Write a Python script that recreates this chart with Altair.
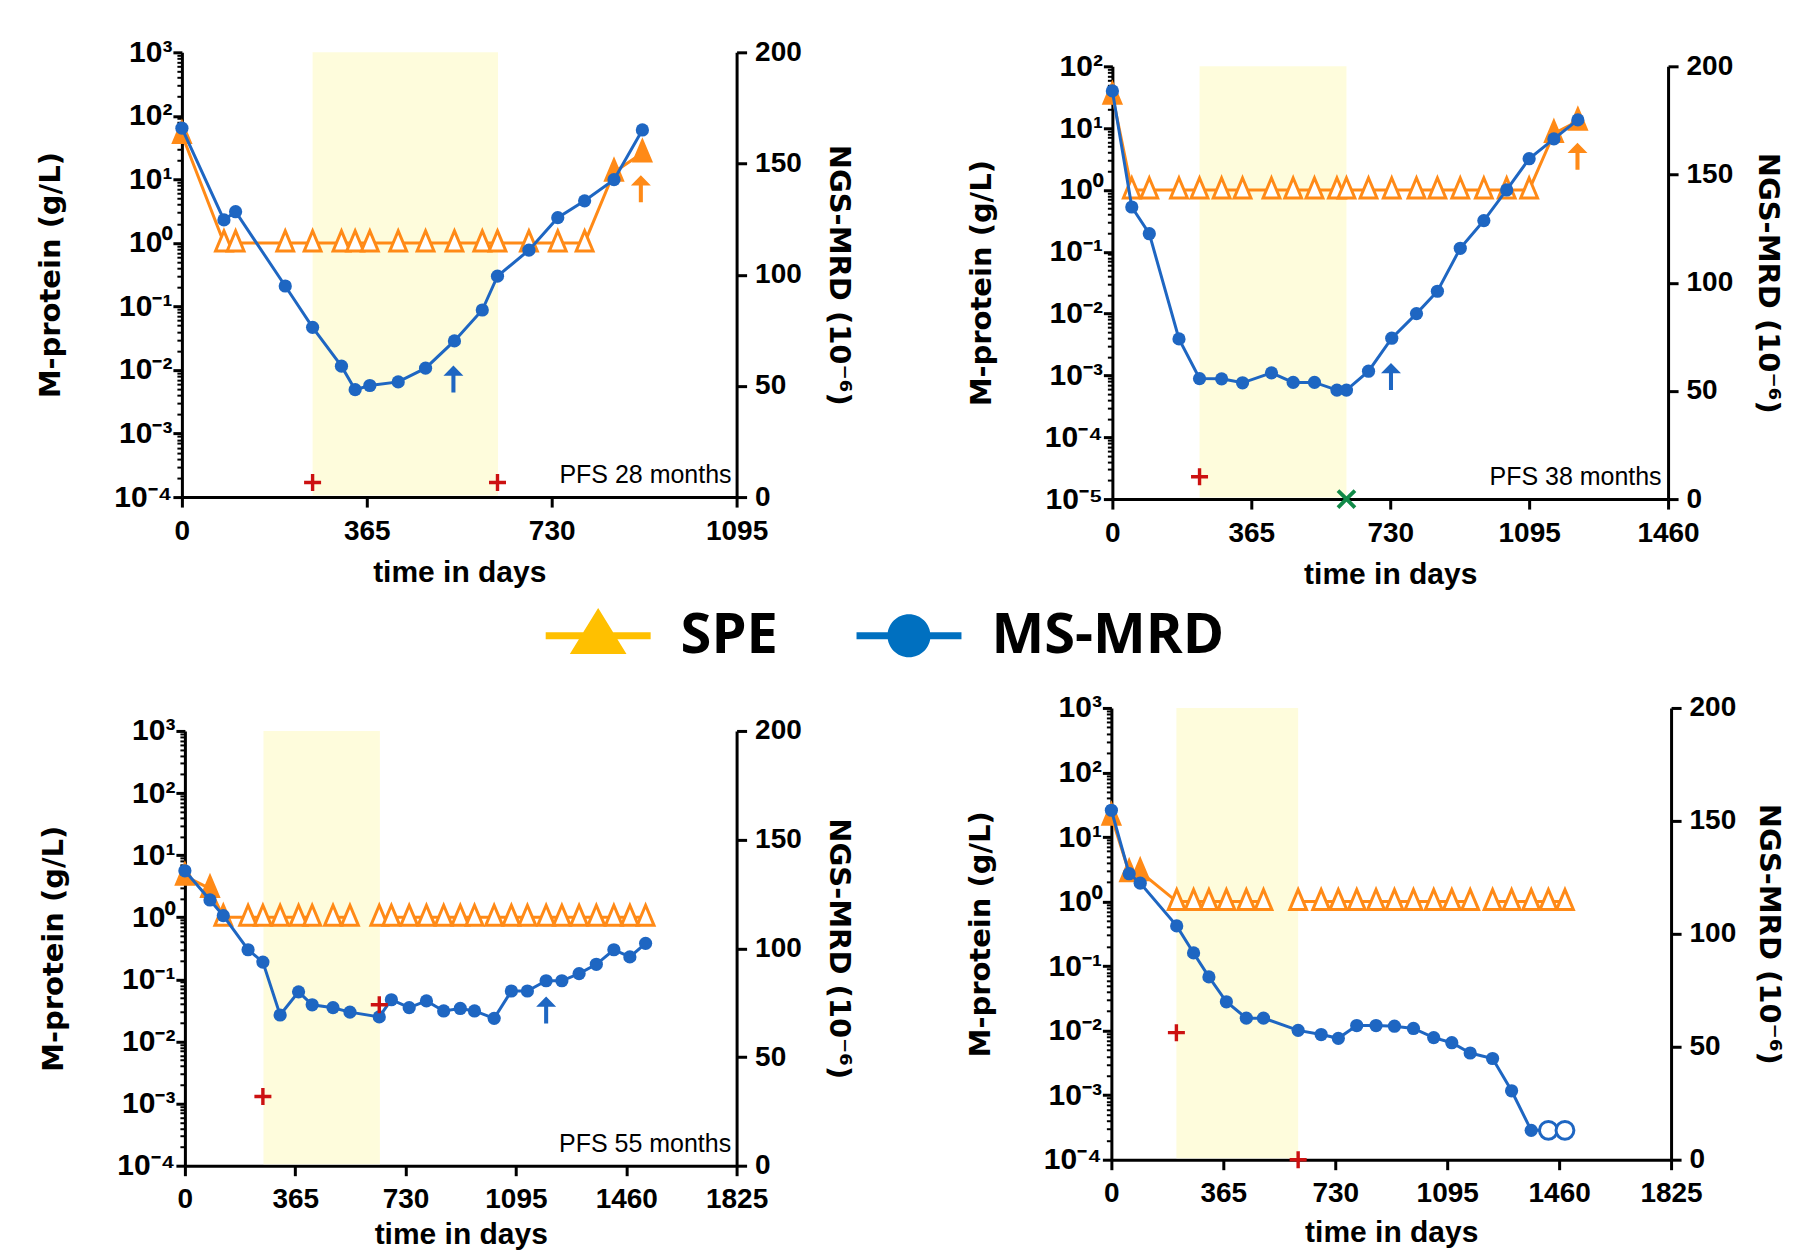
import altair as alt
import pandas as pd

BLUE = "#1E66C2"
ORANGE = "#FF8A17"
RED = "#CC1111"
GREEN = "#118A48"
SHADE = "#FEFCDC"
LEG_SPE = "#FFC000"
LEG_MRD = "#0070C0"
LABEL_FONT = "Liberation Sans"
TITLE_FONT = "DejaVu Sans"

# ---------------- Panel A (top-left) ----------------
a_days = [0, 83, 106, 204, 258, 315, 342, 371, 427, 481, 538, 593, 623, 685, 742, 795, 853, 909]
a_mrd = [64, 2.3, 3.1, 0.21, 0.047, 0.0115, 0.0049, 0.0057, 0.0065, 0.0107, 0.0287, 0.088,
         0.30, 0.77, 2.5, 4.6, 9.9, 60]
a_mrd_status = ["pos"] * 18
a_spe = [51] + [1] * 15 + [13, 26]
a_spe_seg = [0] * 18
a_shade = [258, 624]
a_plus_days = [258, 623]
a_plus_vals = [1.7e-4, 1.7e-4]
a_cross_days = []
a_cross_vals = []
a_up_blue_days = [536]
a_up_blue_vals = [0.0072]
a_up_orange_days = [906]
a_up_orange_vals = [7.1]
a_note = ["PFS 28 months"]
a_note_days = [1085]
a_note_vals = [1.66e-4]
a_xticks = [0, 365, 730, 1095]

# ---------------- Panel B (top-right) ----------------
b_days = [0, 51, 97, 175, 229, 287, 342, 418, 475, 531, 590, 615, 673, 734, 799, 854, 914, 976,
          1036, 1095, 1160, 1223]
b_mrd = [40, 0.53, 0.196, 0.0039, 0.00089, 0.00088, 0.00076, 0.0011, 0.00077, 0.00077, 0.00058,
         0.00058, 0.00117, 0.0040, 0.010, 0.023, 0.114, 0.32, 1.0, 3.2, 6.7, 13.6]
b_mrd_status = ["pos"] * 22
b_spe = [34] + [1] * 19 + [8.2, 13]
b_spe_seg = [0] * 22
b_shade = [229, 615]
b_plus_days = [229]
b_plus_vals = [2.3e-5]
b_cross_days = [615]
b_cross_vals = [1e-5]
b_up_blue_days = [732]
b_up_blue_vals = [0.00096]
b_up_orange_days = [1222]
b_up_orange_vals = [3.5]
b_note = ["PFS 38 months"]
b_note_days = [1443]
b_note_vals = [1.7e-5]
b_xticks = [0, 365, 730, 1095, 1460]

# ---------------- Panel C (bottom-left) ----------------
c_days = [0, 83, 127, 209, 258, 315, 376, 421, 490, 546, 643, 683, 742, 799, 856, 911, 958, 1023,
          1080, 1133, 1195, 1247, 1304, 1361, 1419, 1472, 1524]
c_mrd = [5.6, 1.9, 1.06, 0.30, 0.19, 0.0267, 0.063, 0.039, 0.035, 0.0297, 0.0249, 0.047, 0.035,
         0.045, 0.031, 0.034, 0.031, 0.0236, 0.065, 0.065, 0.095, 0.095, 0.124, 0.175, 0.30, 0.23, 0.38]
c_mrd_status = ["pos"] * 27
c_spe = [4.6, 2.9] + [1] * 25
c_spe_seg = [0] * 8 + [1] * 2 + [2] * 17
c_shade = [260, 645]
c_plus_days = [258, 643]
c_plus_vals = [0.0013, 0.039]
c_cross_days = []
c_cross_vals = []
c_up_blue_days = [1195]
c_up_blue_vals = [0.032]
c_up_orange_days = []
c_up_orange_vals = []
c_note = ["PFS 55 months"]
c_note_days = [1807]
c_note_vals = [1.68e-4]
c_xticks = [0, 365, 730, 1095, 1460, 1825]

# ---------------- Panel D (bottom-right) ----------------
d_days = [0, 58, 94, 213, 268, 318, 375, 440, 496, 609, 684, 740, 800, 863, 923, 985, 1051, 1110,
          1170, 1243, 1305, 1369, 1425, 1479]
d_mrd = [26, 2.7, 1.93, 0.42, 0.16, 0.068, 0.028, 0.0156, 0.0156, 0.0101, 0.0087, 0.0076, 0.012,
         0.012, 0.0117, 0.0108, 0.0078, 0.0065, 0.0045, 0.0037, 0.00117, 0.000285, 0.000285, 0.000285]
d_mrd_status = ["pos"] * 22 + ["neg", "neg"]
d_spe = [21, 2.8, 2.9] + [1] * 21
d_spe_seg = [0] * 9 + [1] * 10 + [2] * 5
d_shade = [212, 609]
d_plus_days = [212, 609]
d_plus_vals = [0.0093, 1e-4]
d_cross_days = []
d_cross_vals = []
d_up_blue_days = []
d_up_blue_vals = []
d_up_orange_days = []
d_up_orange_vals = []
d_note = []
d_note_days = []
d_note_vals = []
d_xticks = [0, 365, 730, 1095, 1460, 1825]

legend_labels = ["SPE", "MS-MRD"]
right_ticks = [0, 50, 100, 150, 200]

# ---------------- symbols ----------------
TRI = "M0,-1L0.7,0.67L-0.7,0.67Z"
ARROW = "M0,-1L0.74,-0.25L0.15,-0.25L0.15,1L-0.15,1L-0.15,-0.25L-0.74,-0.25Z"
PLUS = "M-1,-0.2H-0.2V-1H0.2V-0.2H1V0.2H0.2V1H-0.2V0.2H-1Z"
XMARK = "M-1,-0.16H-0.16V-1H0.16V-0.16H1V0.16H0.16V1H-0.16V0.16H-1Z"
SPE_SYM = "M-1,-0.067H1V0.067H-1Z M0,-0.53L0.54,0.35L-0.54,0.35Z"
MRD_SYM = "M-1,-0.067H1V0.067H-1Z M-0.41,0A0.41,0.41 0 1,1 0.41,0A0.41,0.41 0 1,1 -0.41,0Z"

AX = dict(domainColor="black", domainWidth=3, tickColor="black", tickWidth=3,
          labelColor="black", labelFont=LABEL_FONT, labelFontWeight="bold",
          titleColor="black", grid=False, labelFlush=False)

SUPS = ["⁻⁵", "⁻⁴", "⁻³", "⁻²", "⁻¹", "⁰", "¹", "²", "³"]
SUP_EXPR = "'10' + [" + ",".join("'%s'" % s for s in SUPS) + "][round(log(datum.value) / LN10) + 5]"


def panel(P, legend=False):
    xs = alt.Scale(domain=[0, P["xticks"][-1]], range=P["xrange"], nice=False, zero=False)
    ylo, yhi = P["yexp"]

    def ys():
        return alt.Scale(type="log", domain=[10.0 ** ylo, 10.0 ** yhi], range=P["yrange"], nice=False)

    xaxis = alt.Axis(values=P["xticks"], format="d", tickSize=10, labelPadding=10, labelFontSize=28,
                     title="time in days", titleFont=LABEL_FONT, titleFontSize=30,
                     titleFontWeight="bold", titlePadding=P["xtpad"], **AX)
    major = alt.Axis(orient="left", values=[10.0 ** e for e in range(ylo, yhi + 1)],
                     labelExpr=SUP_EXPR, tickSize=9, labelPadding=1, labelOverlap=False,
                     labelFontSize=30,
                     title="M-protein (g/L)", titleFont=TITLE_FONT, titleFontSize=29,
                     titleFontWeight="bold", titlePadding=48, offset=P["loff"], **AX)
    minors = [k * 10.0 ** e for e in range(ylo, yhi) for k in range(2, 10)]
    minor = alt.Axis(orient="left", values=minors, labels=False, domain=False, tickSize=5,
                     tickWidth=2, tickColor="black", title=None, grid=False, offset=P["loff"])
    raxis = alt.Axis(orient="right", values=right_ticks, format="d", tickSize=10, labelPadding=8,
                     labelFontSize=28,
                     title="NGS-MRD (10⁻⁶)", titleFont=TITLE_FONT, titleFontSize=29,
                     titleFontWeight="bold", titlePadding=P["rtpad"], offset=P["roff"], **AX)

    series = pd.DataFrame({"d": P["days"], "mrd": P["mrd"], "spe": P["spe"],
                           "seg": P["seg"], "st": P["status"]})
    X = alt.X("d:Q", scale=xs, axis=xaxis)

    layers = []
    shade = alt.Chart(pd.DataFrame({"d": [P["shade"][0]], "e": [P["shade"][1]]})).mark_rect(
        color=SHADE, y2Offset=-1.5).encode(
        x=X, x2="e:Q",
        y=alt.YDatum(10.0 ** yhi, scale=ys(), axis=None), y2=alt.Y2Datum(10.0 ** ylo))
    layers.append(shade)

    rdummy = alt.Chart(pd.DataFrame({"d": [0, 0], "r": [right_ticks[0], right_ticks[-1]]})).mark_point(
        opacity=0).encode(
        x=X,
        y=alt.Y("r:Q", scale=alt.Scale(domain=[0, 200], range=P["yrange"], nice=False, zero=False), axis=raxis))
    layers.append(rdummy)

    base = alt.Chart(series)
    layers.append(base.mark_line(color=ORANGE, strokeWidth=3).encode(
        x=X, y=alt.Y("spe:Q", scale=ys(), axis=major), detail="seg:N"))
    layers.append(base.mark_point(shape=TRI, size=576, filled=True, stroke=ORANGE, strokeWidth=3,
                                  opacity=1).encode(
        x=X, y=alt.Y("spe:Q", scale=ys(), axis=None),
        fill=alt.condition("datum.spe == 1", alt.value("white"), alt.value(ORANGE))))
    layers.append(base.mark_line(color=BLUE, strokeWidth=3).encode(
        x=X, y=alt.Y("mrd:Q", scale=ys(), axis=minor)))
    layers.append(base.transform_filter("datum.st == 'pos'").mark_point(
        shape="circle", size=175, filled=True, color=BLUE, opacity=1).encode(
        x=X, y=alt.Y("mrd:Q", scale=ys(), axis=None)))
    if "neg" in P["status"]:
        layers.append(base.transform_filter("datum.st == 'neg'").mark_point(
            shape="circle", size=320, filled=True, fill="white", stroke=BLUE, strokeWidth=3,
            opacity=1).encode(x=X, y=alt.Y("mrd:Q", scale=ys(), axis=None)))

    def pts(days, vals, **mk):
        return alt.Chart(pd.DataFrame({"d": days, "v": vals})).mark_point(
            filled=True, opacity=1, **mk).encode(x=X, y=alt.Y("v:Q", scale=ys(), axis=None))

    if P["ub"][0]:
        layers.append(pts(*P["ub"], shape=ARROW, size=729, color=BLUE))
    if P["uo"][0]:
        layers.append(pts(*P["uo"], shape=ARROW, size=729, color=ORANGE))
    if P["plus"][0]:
        layers.append(pts(*P["plus"], shape=PLUS, size=289, color=RED))
    if P["cross"][0]:
        layers.append(pts(*P["cross"], shape=XMARK, size=576, angle=45, color=GREEN))
    if P["note"][0]:
        layers.append(alt.Chart(pd.DataFrame({"t": P["note"][0], "d": P["note"][1], "v": P["note"][2]}))
                      .mark_text(align="right", baseline="alphabetic", font=LABEL_FONT, fontSize=25,
                                 color="black")
                      .encode(x=X, y=alt.Y("v:Q", scale=ys(), axis=None), text="t:N"))
    if legend:
        lg = alt.Legend(orient="none", legendX=P["legx"], legendY=P["legy"], direction="horizontal",
                        title=None, labelFont="Open Sans", labelFontSize=56, labelFontWeight="bold",
                        labelColor="black", symbolSize=11025, symbolStrokeWidth=0, labelOffset=30,
                        columnPadding=78, labelLimit=600, padding=0, symbolOpacity=1)
        layers.append(alt.Chart(pd.DataFrame({"s": legend_labels})).transform_filter("false")
                      .mark_point(filled=True, opacity=1).encode(
            fill=alt.Fill("s:N", scale=alt.Scale(domain=legend_labels, range=[LEG_SPE, LEG_MRD]), legend=lg),
            shape=alt.Shape("s:N", scale=alt.Scale(domain=legend_labels, range=[SPE_SYM, MRD_SYM]), legend=lg)))

    return alt.layer(*layers).resolve_scale(y="independent").resolve_axis(y="independent").properties(
        width=P["w"], height=P["h"])


PA = dict(w=555, h=445, xrange=[0, 555], yrange=[445, 0], yexp=(-4, 3), loff=0, roff=0,
          xtpad=12, rtpad=22, xticks=a_xticks, days=a_days, mrd=a_mrd, spe=a_spe, seg=a_spe_seg,
          status=a_mrd_status, shade=a_shade, ub=(a_up_blue_days, a_up_blue_vals),
          uo=(a_up_orange_days, a_up_orange_vals), plus=(a_plus_days, a_plus_vals),
          cross=(a_cross_days, a_cross_vals), note=(a_note, a_note_days, a_note_vals),
          legx=364, legy=531)
PB = dict(w=560, h=447, xrange=[1, 557], yrange=[447, 14], yexp=(-5, 2), loff=-1, roff=-3,
          xtpad=12, rtpad=20, xticks=b_xticks, days=b_days, mrd=b_mrd, spe=b_spe, seg=b_spe_seg,
          status=b_mrd_status, shade=b_shade, ub=(b_up_blue_days, b_up_blue_vals),
          uo=(b_up_orange_days, b_up_orange_vals), plus=(b_plus_days, b_plus_vals),
          cross=(b_cross_days, b_cross_vals), note=(b_note, b_note_days, b_note_vals))
PC = dict(w=555, h=458, xrange=[3, 555], yrange=[458, 23], yexp=(-4, 3), loff=-3, roff=0,
          xtpad=6, rtpad=22, xticks=c_xticks, days=c_days, mrd=c_mrd, spe=c_spe, seg=c_spe_seg,
          status=c_mrd_status, shade=c_shade, ub=(c_up_blue_days, c_up_blue_vals),
          uo=(c_up_orange_days, c_up_orange_vals), plus=(c_plus_days, c_plus_vals),
          cross=(c_cross_days, c_cross_vals), note=(c_note, c_note_days, c_note_vals))
PD = dict(w=560, h=452, xrange=[0, 560], yrange=[452, 0], yexp=(-4, 3), loff=0, roff=0,
          xtpad=10, rtpad=18, xticks=d_xticks, days=d_days, mrd=d_mrd, spe=d_spe, seg=d_spe_seg,
          status=d_mrd_status, shade=d_shade, ub=(d_up_blue_days, d_up_blue_vals),
          uo=(d_up_orange_days, d_up_orange_vals), plus=(d_plus_days, d_plus_vals),
          cross=(d_cross_days, d_cross_vals), note=(d_note, d_note_days, d_note_vals))

chart = alt.concat(panel(PA, legend=True), panel(PB), panel(PC), panel(PD), columns=2,
                   spacing=alt.RowColnumber(row=209, column=375), bounds="flush", align="each"
                   ).properties(padding={"left": 28, "top": 28, "right": 8, "bottom": 0}
                   ).configure_view(stroke="transparent")

chart.save("out.html", embed_options={"renderer": "svg", "actions": False})
